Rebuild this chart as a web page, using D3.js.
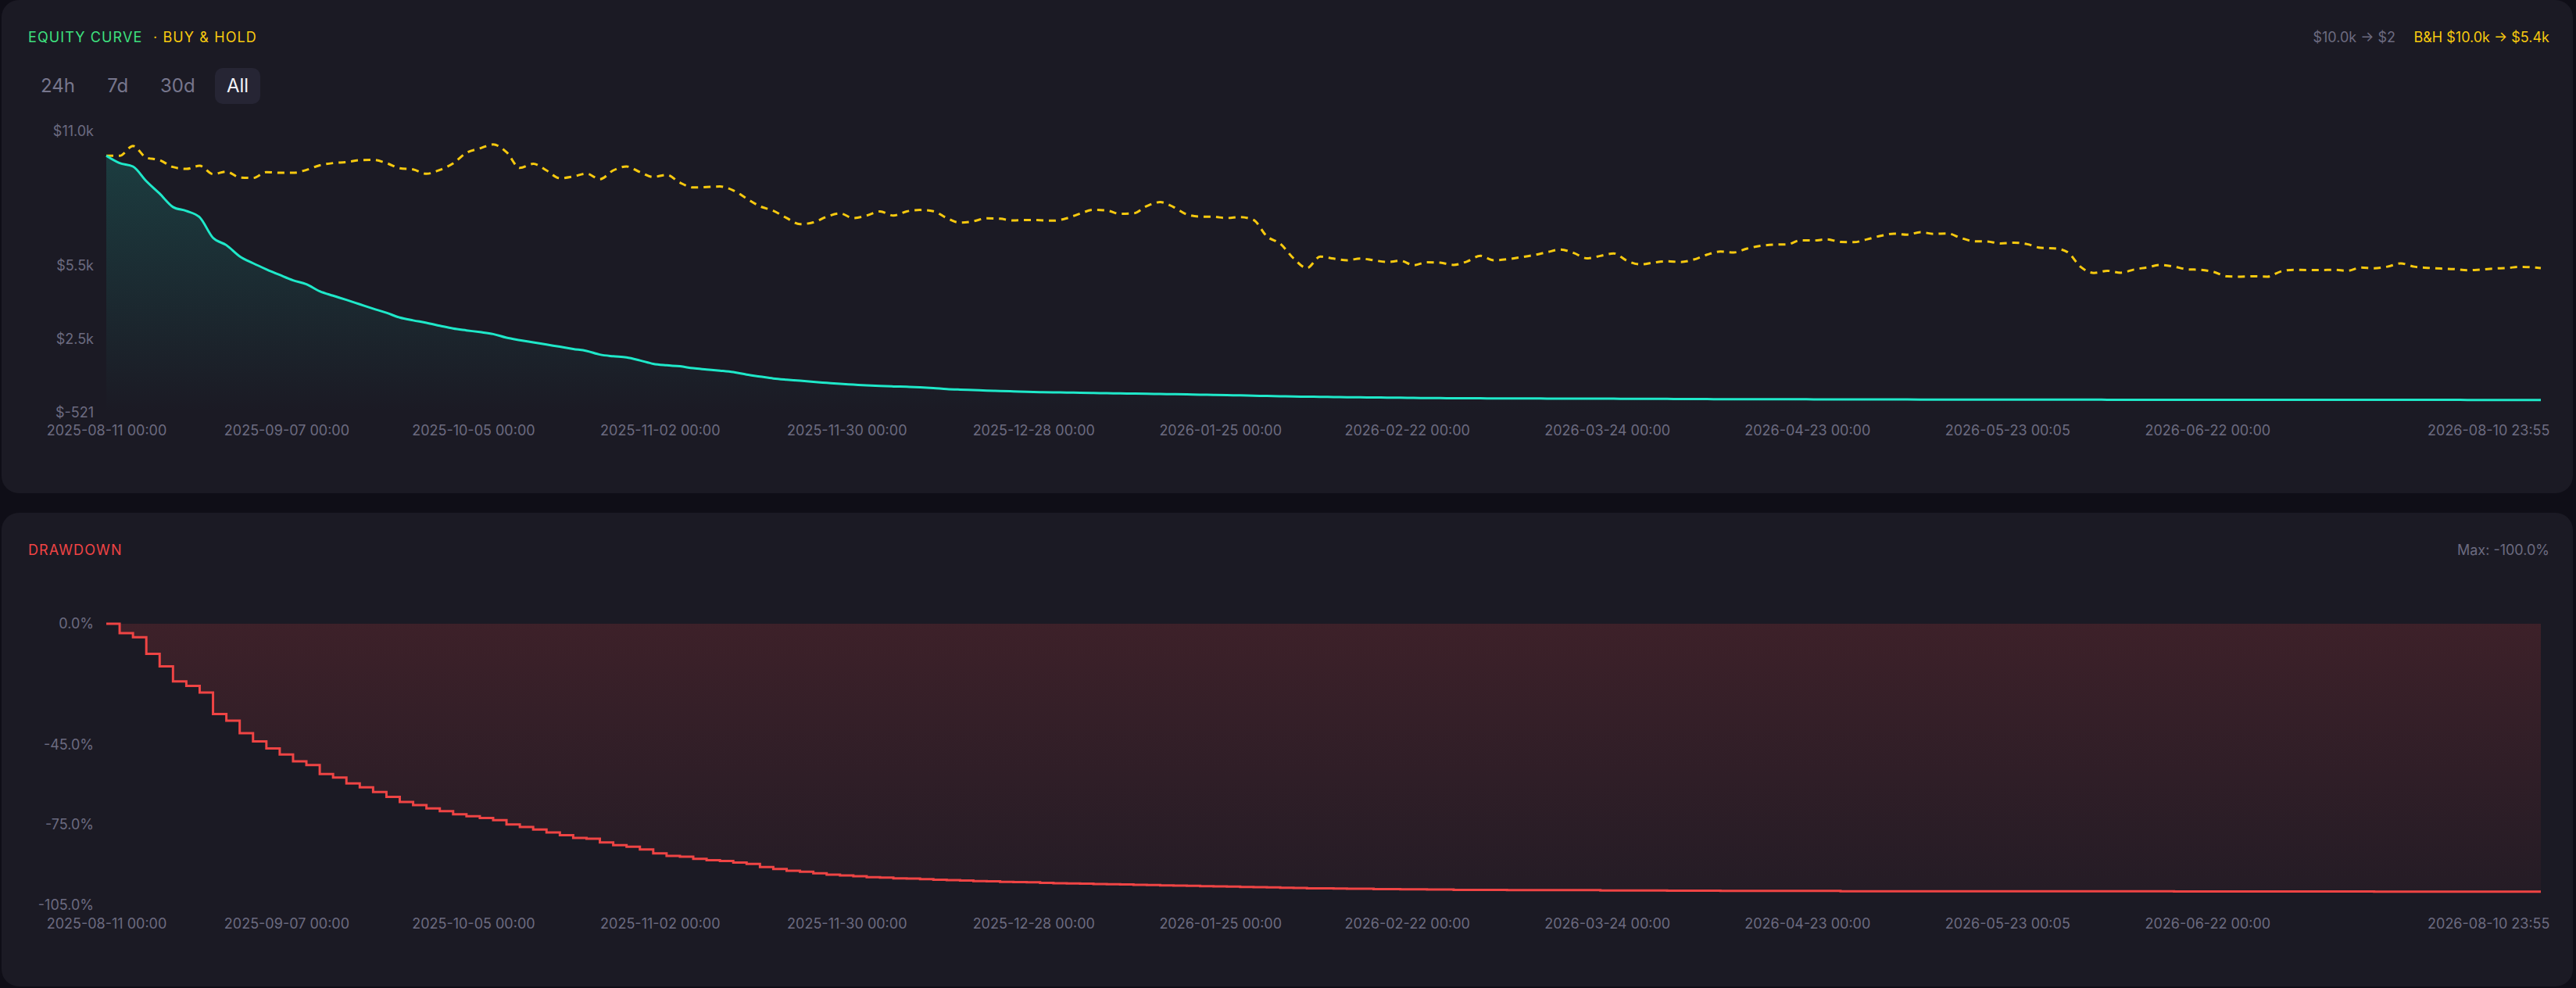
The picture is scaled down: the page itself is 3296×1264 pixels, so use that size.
<!DOCTYPE html>
<html>
<head>
<meta charset="utf-8">
<script src="https://cdn.jsdelivr.net/npm/d3@7"></script>
<style>
  html, body { margin: 0; padding: 0; background: #0f0e17; }
  svg { display: block; font-family: Inter, "Noto Sans", sans-serif; }
</style>
</head>
<body>
<svg id="chart" width="3296" height="1264"></svg>
<script>
// Backtest: equity curve vs buy & hold, plus drawdown. Samples every 2 days.

var startStr = "2025-08-11 00:00";
var endStr   = "2026-08-10 23:55";

// strategy equity, $
var equity = [
  10000, 9700, 9560, 8960, 8450, 7900, 7740, 7480, 6640, 6340,
  5880, 5600, 5350, 5120, 4900, 4740, 4450, 4270, 4100, 3920,
  3740, 3570, 3375, 3260, 3160, 3040, 2925, 2850, 2780, 2700,
  2550, 2450, 2360, 2270, 2180, 2090, 2010, 1860, 1790, 1740,
  1620, 1480, 1420, 1380, 1300, 1250, 1200, 1140, 1040, 960,
  880, 830, 790, 740, 700, 660, 630, 600, 575, 555,
  540, 520, 490, 450, 425, 405, 385, 368, 352, 337,
  322, 313, 304, 295, 285, 276, 268, 260, 252, 244,
  237, 228, 218, 208, 198, 188, 176, 165, 152, 141,
  135, 128, 122, 115, 109, 103, 98, 92, 86, 80,
  76, 73, 70, 68, 66, 64, 62, 60, 59, 58,
  57, 56, 54, 52, 50, 48, 46, 44, 41, 38,
  36, 34, 33, 32, 31, 30, 29, 28, 27, 26,
  25, 24, 23, 22, 21, 20, 19, 18.5, 18, 17,
  16, 15.5, 15, 14.5, 14, 13.5, 13, 12.5, 12, 11.5,
  11, 10.5, 10, 9.6, 9.2, 8.8, 8.4, 8, 7.7, 7.4,
  7.1, 6.8, 6.5, 6.2, 5.9, 5.6, 5.3, 5, 4.8, 4.6,
  4.4, 4.2, 4, 3.8, 3.6, 3.4, 3.2, 3, 2.8, 2.6,
  2.4, 2.2, 2
];

// buy & hold, $
var buyHold = [
  10000, 10000, 10400, 9920, 9820, 9540, 9460, 9590, 9250, 9350,
  9110, 9090, 9330, 9300, 9300, 9420, 9610, 9700, 9740, 9820,
  9830, 9700, 9490, 9440, 9260, 9420, 9690, 10120, 10300, 10460,
  10150, 9500, 9670, 9400, 9080, 9150, 9270, 9040, 9400, 9560,
  9330, 9130, 9220, 8900, 8700, 8720, 8740, 8580, 8250, 7930,
  7750, 7450, 7200, 7270, 7500, 7640, 7450, 7550, 7720, 7550,
  7720, 7780, 7730, 7450, 7260, 7320, 7440, 7420, 7350, 7370,
  7360, 7340, 7440, 7630, 7790, 7760, 7620, 7640, 7940, 8100,
  7900, 7600, 7510, 7500, 7450, 7490, 7370, 6700, 6400, 5800,
  5400, 5870, 5790, 5720, 5790, 5720, 5650, 5700, 5520, 5640,
  5620, 5530, 5670, 5900, 5720, 5760, 5840, 5930, 6050, 6160,
  6020, 5800, 5900, 6000, 5700, 5550, 5630, 5680, 5650, 5750,
  5950, 6080, 6040, 6200, 6310, 6360, 6370, 6540, 6530, 6580,
  6470, 6460, 6580, 6720, 6810, 6770, 6870, 6800, 6820, 6640,
  6500, 6490, 6410, 6440, 6380, 6230, 6210, 6060, 5450, 5200,
  5290, 5210, 5340, 5430, 5530, 5460, 5350, 5330, 5240, 5060,
  5050, 5065, 5050, 5260, 5330, 5320, 5320, 5330, 5290, 5420,
  5390, 5460, 5590, 5460, 5410, 5380, 5360, 5310, 5340, 5380,
  5410, 5450, 5400
];

// drawdown, %
var drawdown = [
  0, -3.5, -5.0, -11.2, -15.9, -21.5, -23.2, -25.7, -33.7, -36.2,
  -40.8, -43.9, -46.5, -48.8, -51.3, -52.7, -56.1, -57.4, -59.6, -61.0,
  -62.8, -64.6, -66.5, -67.7, -68.9, -69.9, -71.1, -71.8, -72.5, -73.3,
  -74.9, -75.8, -76.8, -77.9, -78.9, -79.9, -80.2, -81.6, -82.6, -83.2,
  -84.2, -85.7, -86.6, -86.9, -87.7, -88.2, -88.5, -89.1, -89.6, -90.8,
  -91.5, -92.2, -92.5, -93.1, -93.6, -93.9, -94.2, -94.6, -94.7, -95.0,
  -95.1, -95.3, -95.5, -95.7, -95.8, -96.0, -96.1, -96.3, -96.4, -96.5,
  -96.7, -96.8, -96.9, -97.0, -97.1, -97.2, -97.3, -97.4, -97.5, -97.6,
  -97.7, -97.8, -97.9, -98.0, -98.1, -98.2, -98.3, -98.4, -98.5, -98.6,
  -98.7, -98.7, -98.8, -98.9, -98.9, -99.0, -99.0, -99.1, -99.1, -99.2,
  -99.2, -99.3, -99.3, -99.3, -99.3, -99.4, -99.4, -99.4, -99.4, -99.4,
  -99.4, -99.4, -99.5, -99.5, -99.5, -99.5, -99.5, -99.6, -99.6, -99.6,
  -99.6, -99.7, -99.7, -99.7, -99.7, -99.7, -99.7, -99.7, -99.7, -99.7,
  -99.8, -99.8, -99.8, -99.8, -99.8, -99.8, -99.8, -99.8, -99.8, -99.8,
  -99.8, -99.8, -99.8, -99.8, -99.8, -99.85, -99.85, -99.85, -99.85, -99.85,
  -99.85, -99.85, -99.85, -99.85, -99.85, -99.9, -99.9, -99.9, -99.9, -99.9,
  -99.9, -99.9, -99.9, -99.9, -99.9, -99.9, -99.9, -99.9, -99.9, -99.9,
  -99.95, -99.95, -99.95, -99.95, -99.95, -99.95, -99.95, -99.95, -99.95, -99.95,
  -99.97, -99.98, -99.98
];

var xTickLabels = [
  "2025-08-11 00:00", "2025-09-07 00:00", "2025-10-05 00:00", "2025-11-02 00:00",
  "2025-11-30 00:00", "2025-12-28 00:00", "2026-01-25 00:00", "2026-02-22 00:00",
  "2026-03-24 00:00", "2026-04-23 00:00", "2026-05-23 00:05", "2026-06-22 00:00",
  "2026-08-10 23:55"
];
var equityTicks   = [11000, 5500, 2500, -521];
var drawdownTicks = [0, -45, -75, -105];
var rangeButtons  = ["24h", "7d", "30d", "All"];
var activeRange   = "All";

var C = {
  page: "#0f0e17",
  panel: "#1b1a24",
  muted: "#6c6b80",
  teal: "#1fe8c9",
  gold: "#f7c90f",
  green: "#3ee07f",
  red: "#ef4444",
  btnOn: "#262534"
};

var parseT = d3.timeParse("%Y-%m-%d %H:%M");
var fmtT = d3.timeFormat("%Y-%m-%d %H:%M");
var t0 = parseT(startStr), t1 = parseT(endStr);

function withDates(arr) {
  return arr.map(function(v, i) {
    var t = (i === arr.length - 1) ? t1 : d3.timeDay.offset(t0, i * 2);
    return {t: t, v: v};
  });
}

var eqData = withDates(equity);
var bhData = withDates(buyHold);
var ddData = withDates(drawdown);

function money(v) {
  if (Math.abs(v) >= 1000) return "$" + (v / 1000).toFixed(1) + "k";
  return "$" + Math.round(v);
}
function pct(v) { return v.toFixed(1) + "%"; }

var svg = d3.select("#chart");
var defs = svg.append("defs");

svg.append("rect").attr("width", 3296).attr("height", 1264).attr("fill", C.page);

// panels
svg.append("rect").attr("x", 2).attr("y", 0).attr("width", 3290).attr("height", 631)
  .attr("rx", 22).attr("fill", C.panel);
svg.append("rect").attr("x", 2).attr("y", 656).attr("width", 3290).attr("height", 606)
  .attr("rx", 22).attr("fill", C.panel);

var x = d3.scaleTime().domain([t0, t1]).range([136, 3251]);

///////////////////////
// Equity panel
///////////////////////

var yE = d3.scaleLinear().domain([-521, 11000]).range([528, 168]);

svg.append("text").attr("x", 36).attr("y", 54)
  .attr("font-size", 18).attr("letter-spacing", 1.1).attr("fill", C.green)
  .text("EQUITY CURVE");
svg.append("text").attr("x", 196).attr("y", 54)
  .attr("font-size", 18).attr("letter-spacing", 1.1).attr("fill", C.gold)
  .text("· BUY & HOLD");

svg.append("text").attr("x", 3262).attr("y", 54).attr("text-anchor", "end")
  .attr("font-size", 18).attr("fill", C.gold)
  .text("B&H " + money(buyHold[0]) + " → " + money(buyHold[buyHold.length - 1]));
svg.append("text").attr("x", 3065).attr("y", 54).attr("text-anchor", "end")
  .attr("font-size", 18).attr("fill", C.muted)
  .text(money(equity[0]) + " → " + money(equity[equity.length - 1]));

// range buttons
var btnX = d3.scalePoint().domain(rangeButtons).range([74, 304]);
var btn = svg.append("g").selectAll("g").data(rangeButtons).enter().append("g");
btn.filter(function(d) { return d === activeRange; }).append("rect")
  .attr("x", function(d) { return btnX(d) - 29; }).attr("y", 87)
  .attr("width", 58).attr("height", 46).attr("rx", 10).attr("fill", C.btnOn);
btn.append("text")
  .attr("x", function(d) { return btnX(d); }).attr("y", 118)
  .attr("text-anchor", "middle").attr("font-size", 24)
  .attr("fill", function(d) { return d === activeRange ? "#f2f2f7" : "#77768c"; })
  .text(function(d) { return d; });

var gE = defs.append("linearGradient").attr("id", "eqFill")
  .attr("gradientUnits", "userSpaceOnUse").attr("x1", 0).attr("x2", 0).attr("y1", 195).attr("y2", 528);
gE.append("stop").attr("offset", 0).attr("stop-color", C.teal).attr("stop-opacity", 0.17);
gE.append("stop").attr("offset", 1).attr("stop-color", C.teal).attr("stop-opacity", 0);

svg.append("path").datum(eqData)
  .attr("fill", "url(#eqFill)")
  .attr("d", d3.area().curve(d3.curveMonotoneX)
    .x(function(d) { return x(d.t); }).y0(yE(-521)).y1(function(d) { return yE(d.v); }));

svg.append("path").datum(bhData)
  .attr("fill", "none").attr("stroke", C.gold).attr("stroke-width", 3)
  .attr("stroke-dasharray", "9,7")
  .attr("d", d3.line().curve(d3.curveMonotoneX)
    .x(function(d) { return x(d.t); }).y(function(d) { return yE(d.v); }));

svg.append("path").datum(eqData)
  .attr("fill", "none").attr("stroke", C.teal).attr("stroke-width", 3)
  .attr("stroke-linejoin", "round")
  .attr("d", d3.line().curve(d3.curveMonotoneX)
    .x(function(d) { return x(d.t); }).y(function(d) { return yE(d.v); }));

function styleAxis(g) {
  g.select(".domain").remove();
  g.selectAll("text").attr("fill", C.muted).attr("font-size", 18)
    .attr("font-family", "Inter, 'Noto Sans', sans-serif");
}

svg.append("g").attr("transform", "translate(136,0)")
  .call(d3.axisLeft(yE).tickValues(equityTicks).tickSize(0).tickPadding(16).tickFormat(money))
  .call(styleAxis);

var xTicks = xTickLabels.map(parseT);

function xAxis(yPos, pad) {
  var g = svg.append("g").attr("transform", "translate(0," + yPos + ")")
    .call(d3.axisBottom(x).tickValues(xTicks).tickSize(0).tickPadding(pad).tickFormat(fmtT))
    .call(styleAxis);
  g.selectAll(".tick:last-of-type text").attr("text-anchor", "end").attr("dx", 11);
}
xAxis(528, 16);

///////////////////////
// Drawdown panel
///////////////////////

var yD = d3.scaleLinear().domain([-105, 0]).range([1158, 798]);

svg.append("text").attr("x", 36).attr("y", 710)
  .attr("font-size", 18).attr("letter-spacing", 1.1).attr("fill", C.red)
  .text("DRAWDOWN");
svg.append("text").attr("x", 3262).attr("y", 710).attr("text-anchor", "end")
  .attr("font-size", 18).attr("fill", C.muted)
  .text("Max: " + pct(d3.min(drawdown)));

var gD = defs.append("linearGradient").attr("id", "ddFill")
  .attr("gradientUnits", "userSpaceOnUse").attr("x1", 0).attr("x2", 0).attr("y1", 798).attr("y2", 1158);
gD.append("stop").attr("offset", 0).attr("stop-color", C.red).attr("stop-opacity", 0.16);
gD.append("stop").attr("offset", 1).attr("stop-color", C.red).attr("stop-opacity", 0.04);

svg.append("path").datum(ddData)
  .attr("fill", "url(#ddFill)")
  .attr("d", d3.area().curve(d3.curveStepAfter)
    .x(function(d) { return x(d.t); }).y0(yD(0)).y1(function(d) { return yD(d.v); }));

svg.append("path").datum(ddData)
  .attr("fill", "none").attr("stroke", C.red).attr("stroke-width", 3)
  .attr("d", d3.line().curve(d3.curveStepAfter)
    .x(function(d) { return x(d.t); }).y(function(d) { return yD(d.v); }));

svg.append("g").attr("transform", "translate(136,0)")
  .call(d3.axisLeft(yD).tickValues(drawdownTicks).tickSize(0).tickPadding(16).tickFormat(pct))
  .call(styleAxis);

xAxis(1158, 17);
</script>
</body>
</html>
